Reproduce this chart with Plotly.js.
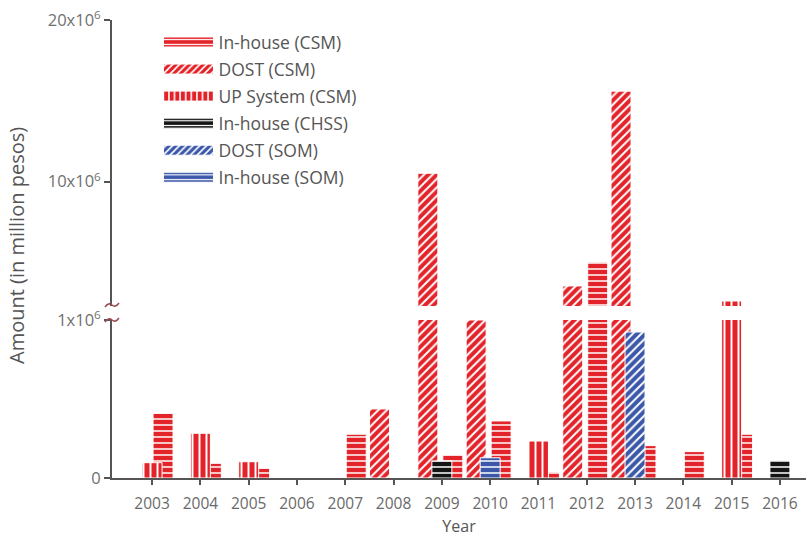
<!DOCTYPE html>
<html>
<head>
<meta charset="utf-8">
<script src="https://cdn.plot.ly/plotly-3.0.1.min.js"></script>
<style>html,body{margin:0;padding:0;background:#fff;}#chart{width:806px;height:537px;}</style>
</head>
<body>
<div id="chart"></div>
<script>
// ---- data (amounts in pesos) ----
const years = [2003,2004,2005,2006,2007,2008,2009,2010,2011,2012,2013,2014,2015,2016];

const inhouseCSM_years = [2003,2004,2005,2007,2009,2010,2011,2012,2013,2014,2015];
const inhouseCSM_vals  = [0.41e6,0.093e6,0.061e6,0.277e6,0.146e6,0.361e6,0.038e6,5.03e6,0.205e6,0.167e6,0.277e6];

const dostCSM_years = [2008,2009,2010,2012,2013];
const dostCSM_vals  = [0.437e6,10.52e6,1.0e6,3.55e6,15.6e6];

const upCSM_years = [2003,2004,2005,2011,2015];
const upCSM_vals  = [0.097e6,0.283e6,0.103e6,0.234e6,2.62e6];

const inhouseCHSS_years = [2009,2016];
const inhouseCHSS_vals  = [0.108e6,0.112e6];

const dostSOM_years = [2013];
const dostSOM_vals  = [0.924e6];

const inhouseSOM_years = [2010];
const inhouseSOM_vals  = [0.128e6];

const lowerTickVals = [0, 1e6];
const lowerTickText = ['0', '1x10<sup>6</sup>'];
const upperTickVals = [10e6, 20e6];
const upperTickText = ['10x10<sup>6</sup>', '20x10<sup>6</sup>'];

// ---- styles ----
const RED = '#e3232a', BLUE = '#3a57a9', BLACK = '#141414';
const W = 0.414;
const series = [
  // drawn back to front
  {name:'DOST (CSM)', x:dostCSM_years, y:dostCSM_vals, color:RED, shape:'/', size:6, sol:0.33, offset:-0.497, rank:2},
  {name:'In-house (CSM)', x:inhouseCSM_years, y:inhouseCSM_vals, color:RED, shape:'-', size:6, sol:0.25, offset:0.02, rank:1},
  {name:'UP System (CSM)', x:upCSM_years, y:upCSM_vals, color:RED, shape:'|', size:7, sol:0.28, offset:-0.207, rank:3},
  {name:'In-house (CHSS)', x:inhouseCHSS_years, y:inhouseCHSS_vals, color:BLACK, shape:'-', size:6, sol:0.25, offset:-0.207, rank:4},
  {name:'DOST (SOM)', x:dostSOM_years, y:dostSOM_vals, color:BLUE, shape:'/', size:6, sol:0.33, offset:-0.207, rank:5},
  {name:'In-house (SOM)', x:inhouseSOM_years, y:inhouseSOM_vals, color:BLUE, shape:'-', size:6, sol:0.25, offset:-0.207, rank:6}
];

const traces = [];
series.forEach(s => {
  ['y','y2'].forEach(ax => {
    traces.push({
      type:'bar', name:s.name, x:s.x, y:s.y, xaxis:'x', yaxis:ax,
      offset:s.offset, width:W,
      legendgroup:s.name, legendrank:s.rank, showlegend: ax === 'y',
      marker:{color:s.color, line:{color:'#ffffff', width:1},
        pattern:{shape:s.shape, fgcolor:'#ffffff', bgcolor:s.color, size:s.size, solidity:s.sol, fillmode:'replace'}},
      hoverinfo:'x+y+name'
    });
  });
});

// plot geometry helpers for decorations (axis-break marks)
const L = 112, T = 20, PW = 694, PH = 458;
const px2x = p => (p - L) / PW;
const py2y = p => (T + PH - p) / PH;
function squiggle(py){
  const pts = [[-7,2],[-3.5,-3],[0,0],[3.5,3],[7,-2]].map(([dx,dy]) => [px2x(L+dx), py2y(py+dy)]);
  return `M${pts[0][0]},${pts[0][1]} Q${pts[1][0]},${pts[1][1]} ${pts[2][0]},${pts[2][1]} Q${pts[3][0]},${pts[3][1]} ${pts[4][0]},${pts[4][1]}`;
}

const FF = 'Open Sans, sans-serif';
const layout = {
  width:806, height:537,
  margin:{l:L, r:0, t:T, b:537-T-PH},
  paper_bgcolor:'#fff', plot_bgcolor:'#fff',
  barmode:'overlay',
  showlegend:true,
  legend:{x:0.067, y:0.991, xanchor:'left', yanchor:'top', bgcolor:'rgba(0,0,0,0)',
          font:{family:FF, size:17.5, color:'#555'},
          itemwidth:50, tracegroupgap:1.3, traceorder:'grouped'},
  xaxis:{range:[2002.17, 2016.54], tickvals:years, ticktext:years.map(String),
         showline:true, linecolor:'#555', linewidth:2, ticks:'outside', ticklen:5, tickcolor:'#555', tickwidth:1.5,
         ticklabelstandoff:5,
         showgrid:false, zeroline:false, tickfont:{family:FF, size:15.5, color:'#6a6a6a'}, anchor:'y',
         title:{text:'Year', font:{family:FF, size:16, color:'#555'}, standoff:10}},
  yaxis:{domain:[0, 0.345], range:[0, 1e6], tickvals:lowerTickVals, ticktext:lowerTickText,
         showline:true, linecolor:'#555', linewidth:2, ticks:'outside', ticklen:6, tickcolor:'#555', tickwidth:1.5,
         showgrid:false, zeroline:false, tickfont:{family:FF, size:16.5, color:'#707070'}, anchor:'x'},
  yaxis2:{domain:[0.3755, 1], range:[2.31e6, 20e6], tickvals:upperTickVals, ticktext:upperTickText,
         showline:true, linecolor:'#555', linewidth:2, ticks:'outside', ticklen:6, tickcolor:'#555', tickwidth:1.5,
         showgrid:false, zeroline:false, tickfont:{family:FF, size:16.5, color:'#707070'}, anchor:'x'},
  annotations:[{text:'Amount (in million pesos)', textangle:-90, xref:'paper', yref:'paper',
                x:px2x(16), y:py2y(245), xanchor:'center', yanchor:'middle', showarrow:false,
                font:{family:FF, size:20, color:'#555'}}],
  shapes:[
    {type:'path', xref:'paper', yref:'paper', path:squiggle(305), line:{color:'#9a4b52', width:1.5}},
    {type:'path', xref:'paper', yref:'paper', path:squiggle(320), line:{color:'#9a4b52', width:1.5}},
    {type:'line', xref:'paper', yref:'paper', x0:px2x(104), x1:px2x(112), y0:0, y1:0, line:{color:'#555', width:2}}
  ]
};

Plotly.newPlot('chart', traces, layout, {displayModeBar:false}).then(gd => {
  // widen legend swatches to match the reference's long bar samples
  document.querySelectorAll('.legend .traces .legendpoints path').forEach(p => {
    p.setAttribute('d', 'M25,5H-25V-5H25Z');
  });
});
</script>
</body>
</html>
